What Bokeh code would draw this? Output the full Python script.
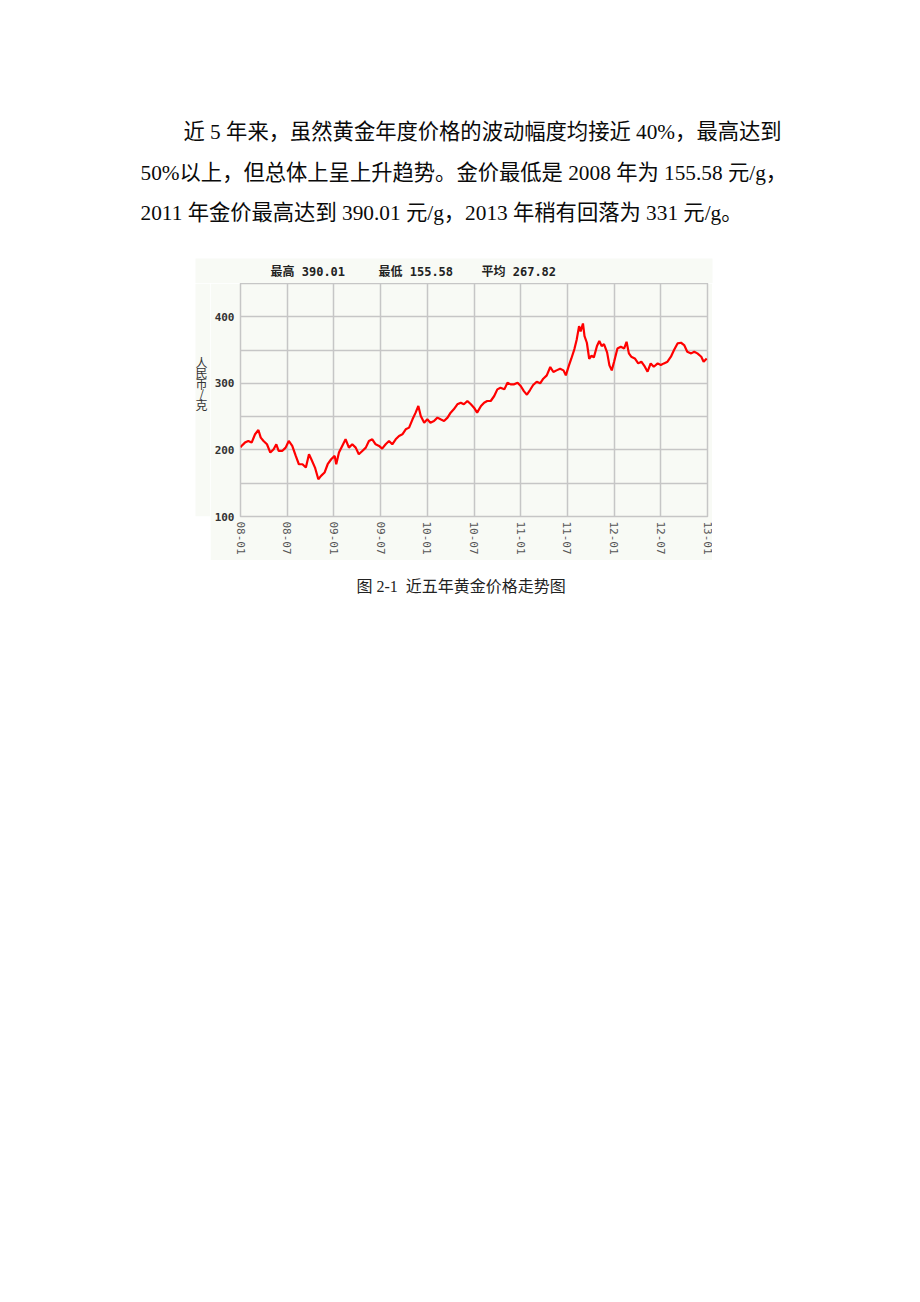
from bokeh.plotting import figure
from bokeh.layouts import column, row
from bokeh.models import Label, FixedTicker, Range1d, BoxAnnotation
from bokeh.embed import file_html
from bokeh.resources import INLINE

# ---- data (month index counted from 2008-01, price in CNY/g) ----
months = [0.0, 0.13, 0.57, 1.0, 1.43, 1.87, 2.3, 2.6, 2.96, 3.4, 3.83, 4.26, 4.6, 4.9,
          5.35, 5.8, 6.2, 6.65, 7.1, 7.5, 7.96, 8.4, 8.8, 9.1, 9.57, 10.0, 10.35, 10.8,
          11.2, 11.65, 12.1, 12.3, 12.65, 13.07, 13.5, 13.93, 14.36, 14.8, 15.2, 15.65,
          16.1, 16.5, 16.93, 17.36, 17.8, 18.2, 18.65, 19.08, 19.5, 19.94, 20.37, 20.8,
          21.23, 21.66, 22.1, 22.5, 22.85, 23.16, 23.6, 24.0, 24.4, 24.86, 25.3, 25.7,
          26.15, 26.6, 27.0, 27.4, 27.86, 28.3, 28.7, 29.15, 29.6, 30.0, 30.4, 30.9,
          31.3, 31.7, 32.15, 32.6, 33.0, 33.4, 33.9, 34.3, 34.7, 35.16, 35.6, 36.0,
          36.43, 36.8, 37.2, 37.6, 38.06, 38.5, 38.9, 39.35, 39.8, 40.2, 40.6, 41.06,
          41.5, 41.8, 42.2, 42.5, 42.9, 43.2, 43.5, 43.7, 44.0, 44.2, 44.5, 44.8, 45.1,
          45.4, 45.8, 46.1, 46.4, 46.7, 47.1, 47.4, 47.7, 48.0, 48.43, 48.86, 49.3,
          49.6, 49.9, 50.2, 50.66, 51.1, 51.5, 51.95, 52.3, 52.7, 53.1, 53.6, 54.0,
          54.4, 54.86, 55.3, 55.7, 56.15, 56.6, 57.0, 57.4, 57.9, 58.3, 58.7, 59.2,
          59.5, 59.9]
prices = [204, 206, 211, 213.5, 211, 223.5, 230, 218.5, 213.5, 208.5, 196, 201, 208.5, 198.5,
          198.5, 203.5, 213.5, 206, 191, 178.5, 178.5, 173.5, 193.5, 186, 173.5, 156, 161, 166,
          178.5, 186, 191, 178.5, 196, 206, 216, 203.5, 208.5, 203.5, 193.5, 198.5,
          203.5, 213.5, 216, 208.5, 206, 202, 208.5, 213.5, 208.5, 216, 221, 223.5,
          231, 233.5, 246, 256, 266, 251, 241, 246, 241, 243.5, 248.5, 246,
          243.5, 248.5, 256, 261, 268.5, 271, 268.5, 273.5, 268.5, 263.5, 256, 266,
          271, 273.5, 273.5, 281, 291, 293.5, 291, 301, 298.5, 298.5, 301, 296,
          288, 283, 290, 297.5, 302.5, 300, 307, 312, 324.5, 317, 319.5, 322,
          319.5, 312, 327, 337, 351.5, 366, 386, 378, 390, 371, 361, 337, 341.5,
          339, 356, 363.5, 356, 359, 346.5, 327, 319.5, 332.5, 352.5, 355, 352.5,
          362.5, 345, 340, 337.5, 330, 332.5, 325, 317.5, 330, 325, 330, 327.5,
          330, 332.5, 340, 350, 360, 361, 357.5, 347.5, 345, 347.5, 345, 340,
          332.5, 337.5]
x_ticks = [0, 6, 12, 18, 24, 30, 36, 42, 48, 54, 60]
x_tick_labels = ["08-01", "08-07", "09-01", "09-07", "10-01", "10-07",
                 "11-01", "11-07", "12-01", "12-07", "13-01"]
y_ticks = [100, 200, 300, 400]
y_grid_ticks = [150, 250, 350]
stats_labels = ["最高 390.01", "最低 155.58", "平均 267.82"]
y_title_chars = ["人", "民", "币", "/", "克"]
paragraph = ["近 5 年来，虽然黄金年度价格的波动幅度均接近 40%，最高达到",
             "50%以上，但总体上呈上升趋势。金价最低是 2008 年为 155.58 元/g，",
             "2011 年金价最高达到 390.01 元/g，2013 年稍有回落为 331 元/g。"]
caption = "图 2-1\u00a0\u00a0近五年黄金价格走势图"

# ---- page geometry (canvas px) ----
W, H = 920, 1302
FL, FR, FT, FB = 240, 707, 283, 516      # plot frame of the chart
CL, CR, CT, CB = 195, 712, 258, 560      # chart image (tinted) area
LEFT_W = 210                              # width of the y-title strip
TINT = "#f8faf5"
GRID = "#c6c6c6"
BODY_FONT = "'Liberation Serif', 'Noto Sans CJK SC'"


def text_fig(x0, x1, y0, y1):
    """A figure whose frame fills it, with ranges in page pixels (y downward)."""
    f = figure(width=x1 - x0, height=y1 - y0, output_backend="svg", toolbar_location=None,
               x_range=Range1d(x0, x1), y_range=Range1d(y1, y0),
               x_axis_type=None, y_axis_type=None,
               min_border_left=0, min_border_right=0, min_border_top=0, min_border_bottom=0)
    f.outline_line_color = None
    f.background_fill_color = "white"
    f.border_fill_color = "white"
    return f


def add_text(f, txt, x, y, size, font, color="#000000", align="left", style="normal"):
    f.add_layout(Label(x=x, y=y, text=txt, text_font=font, text_font_size=size,
                       text_color=color, text_align=align, text_baseline="middle",
                       text_font_style=style))


# ---- top: paragraph + chart header ----
top = text_fig(0, W, 0, FT)
top.add_layout(BoxAnnotation(left=CL, right=CR, top=CT, bottom=FT, fill_color=TINT,
                             fill_alpha=1.0, line_color=None))
for txt, x, y in zip(paragraph, [183, 140, 140], [131, 172, 212]):
    add_text(top, txt, x, y, "21.3px", BODY_FONT, color="#0a0a0a")
for txt, x in zip(stats_labels, [270, 378, 481]):
    add_text(top, txt, x, 271.5, "12px", "'DejaVu Sans Mono', 'Noto Sans CJK SC'",
             color="#222222", style="bold")

# ---- left strip: stacked y title ----
left = text_fig(0, LEFT_W, FT, CB)
left.add_layout(BoxAnnotation(left=CL, right=LEFT_W, top=FT, bottom=CB, fill_color=TINT,
                              fill_alpha=1.0, line_color=None))
for ch, y in zip(y_title_chars, [376.5, 389, 401.5, 413.5, 426.5]):
    add_text(left, ch, 201, y, "12px", "'Noto Sans CJK SC'", color="#333333", align="center")

# ---- chart ----
p = figure(width=CR - LEFT_W, height=CB - FT, output_backend="svg", toolbar_location=None,
           x_range=Range1d(0, 60), y_range=Range1d(100, 450),
           min_border_left=FL - LEFT_W, min_border_right=CR - FR,
           min_border_top=0, min_border_bottom=CB - FB)
p.border_fill_color = TINT
p.background_fill_color = TINT
p.outline_line_color = GRID
p.outline_line_width = 1.5

p.xgrid.ticker = FixedTicker(ticks=x_ticks)
p.ygrid.ticker = FixedTicker(ticks=y_ticks + y_grid_ticks)
for g in (p.xgrid, p.ygrid):
    g.grid_line_color = GRID
    g.grid_line_width = 1.5

p.xaxis.ticker = FixedTicker(ticks=x_ticks)
p.xaxis.major_label_overrides = {t: l for t, l in zip(x_ticks, x_tick_labels)}
p.xaxis.major_label_orientation = "vertical"
p.yaxis.ticker = FixedTicker(ticks=y_ticks)
for ax in (p.xaxis, p.yaxis):
    ax.axis_line_color = None
    ax.major_tick_line_color = None
    ax.minor_tick_line_color = None
    ax.major_tick_out = 0
    ax.major_tick_in = 0
    ax.major_label_text_font = "DejaVu Sans Mono"
    ax.major_label_text_font_size = "11px"
p.xaxis.major_label_text_color = "#555555"
p.xaxis.major_label_standoff = 5
p.yaxis.major_label_text_color = "#333333"
p.yaxis.major_label_text_font_style = "bold"
p.yaxis.major_label_standoff = 6

p.line(months, prices, line_color="#ff0000", line_width=2.2)

# ---- right strip (blank) ----
right = text_fig(CR, W, FT, CB)

# ---- bottom: caption ----
bottom = text_fig(0, W, CB, H)
add_text(bottom, caption, 356, 586, "16px", BODY_FONT, color="#222222")

page = column(top, row(left, p, right), bottom)
open("out.html", "w").write(file_html(page, INLINE))
